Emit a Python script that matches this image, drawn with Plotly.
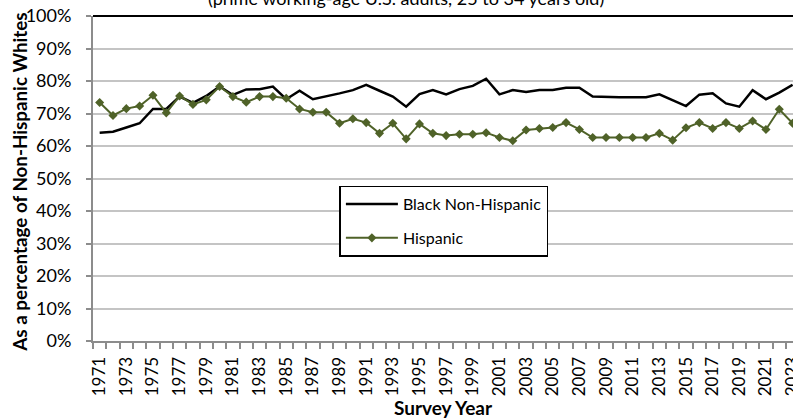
import plotly.graph_objects as go

years = list(range(1971, 2024))

black_non_hispanic = [
    64.1, 64.4, 65.7, 67.0, 71.4, 71.4, 75.2, 73.3, 75.4, 78.3,
    75.7, 77.4, 77.5, 78.3, 74.4, 77.0, 74.4, 75.2, 76.2, 77.2,
    78.8, 77.0, 75.2, 72.1, 76.0, 77.2, 75.9, 77.5, 78.5, 80.7,
    75.9, 77.2, 76.6, 77.2, 77.2, 77.9, 77.9, 75.2, 75.0, 75.0,
    75.0, 75.0, 75.9, 74.2, 72.3, 75.8, 76.2, 73.1, 72.1, 77.2,
    74.4, 76.4, 78.8,
]

hispanic = [
    73.4, 69.4, 71.5, 72.3, 75.6, 70.2, 75.4, 72.8, 74.2, 78.3,
    75.2, 73.5, 75.2, 75.2, 74.7, 71.4, 70.4, 70.4, 67.0, 68.4,
    67.2, 63.9, 67.0, 62.2, 66.8, 63.9, 63.2, 63.6, 63.6, 64.1,
    62.6, 61.6, 64.9, 65.4, 65.7, 67.2, 65.1, 62.6, 62.6, 62.6,
    62.6, 62.6, 63.9, 61.8, 65.6, 67.2, 65.4, 67.2, 65.4, 67.7,
    65.1, 71.3, 67.0,
]

label_years = [y for y in years if y % 2 == 1]
y_ticks = list(range(0, 101, 10))

FONT = "Lato"
W, H = 793, 419
L, R, T, B = 93, 0, 16, 78
plot_w = W - L - R

fig = go.Figure()
fig.add_trace(go.Scatter(
    x=years, y=black_non_hispanic, name="Black Non-Hispanic",
    mode="lines", line=dict(color="black", width=2.5),
    legendgroup="a",
))
fig.add_trace(go.Scatter(
    x=years, y=hispanic, name="Hispanic",
    mode="lines+markers", line=dict(color="#4F6228", width=2),
    marker=dict(symbol="diamond", size=7, color="#4F6228"),
    legendgroup="b",
))

fig.update_layout(
    width=W, height=H,
    margin=dict(l=L, r=R, t=T, b=B, autoexpand=False),
    paper_bgcolor="white", plot_bgcolor="white",
    font=dict(family=FONT, size=18, color="black"),
    annotations=[
        dict(
            text="(prime working-age U.S. adults, 25 to 34 years old)",
            font=dict(size=18, family=FONT, color="black"),
            xref="paper", yref="paper", x=0.447, y=1.055,
            xanchor="center", yanchor="middle", showarrow=False,
        ),
        # y-axis title, placed by hand so it sits where the reference has it
        dict(
            text="<b>As a percentage of Non-Hispanic Whites</b>",
            font=dict(size=18.8, family=FONT, color="black"),
            textangle=-90,
            xref="paper", yref="paper", x=(20 - L) / plot_w, y=0.487,
            xanchor="center", yanchor="middle", showarrow=False,
        ),
    ],
    showlegend=True,
    legend=dict(
        x=0.352, y=0.478, xanchor="left", yanchor="top",
        bgcolor="white", bordercolor="black", borderwidth=1.5,
        font=dict(size=16, family=FONT),
        tracegroupgap=10,
        itemwidth=52,
    ),
    shapes=[dict(type="line", xref="paper", yref="paper",
                 x0=0, x1=1, y0=1, y1=1,
                 line=dict(color="black", width=2))],
)

fig.update_xaxes(
    range=[1970.5, 2023.03], automargin=False,
    tickmode="array", tickvals=label_years,
    ticktext=[str(y) for y in label_years],
    tickangle=-90, ticks="", ticklabelstandoff=7,
    ticklabeloverflow="allow",
    tickfont=dict(size=17),
    showline=True, linecolor="#8C8C8C", linewidth=2,
    showgrid=False, zeroline=False,
    minor=dict(ticks="outside", ticklen=6, tick0=1970.5, dtick=1,
               tickcolor="#8C8C8C", tickwidth=1.5, showgrid=False),
    title=dict(text="<b>Survey Year</b>", font=dict(size=19), standoff=6),
)

fig.update_yaxes(
    range=[0, 100], automargin=False,
    tickmode="array", tickvals=y_ticks,
    ticktext=[f"{v}%" for v in y_ticks],
    ticks="outside", ticklen=5, tickcolor="#8C8C8C", tickwidth=1.5,
    ticklabelstandoff=11, ticklabeloverflow="allow",
    showline=True, linecolor="#8C8C8C", linewidth=2,
    showgrid=True, gridcolor="#C4C4C4", gridwidth=1.5,
    zeroline=False,
)

# drop the default 8px body margin so the figure fills the window exactly
fig.write_html(
    "out.html",
    config={"displayModeBar": False},
    post_script="document.body.style.margin='0';",
)
